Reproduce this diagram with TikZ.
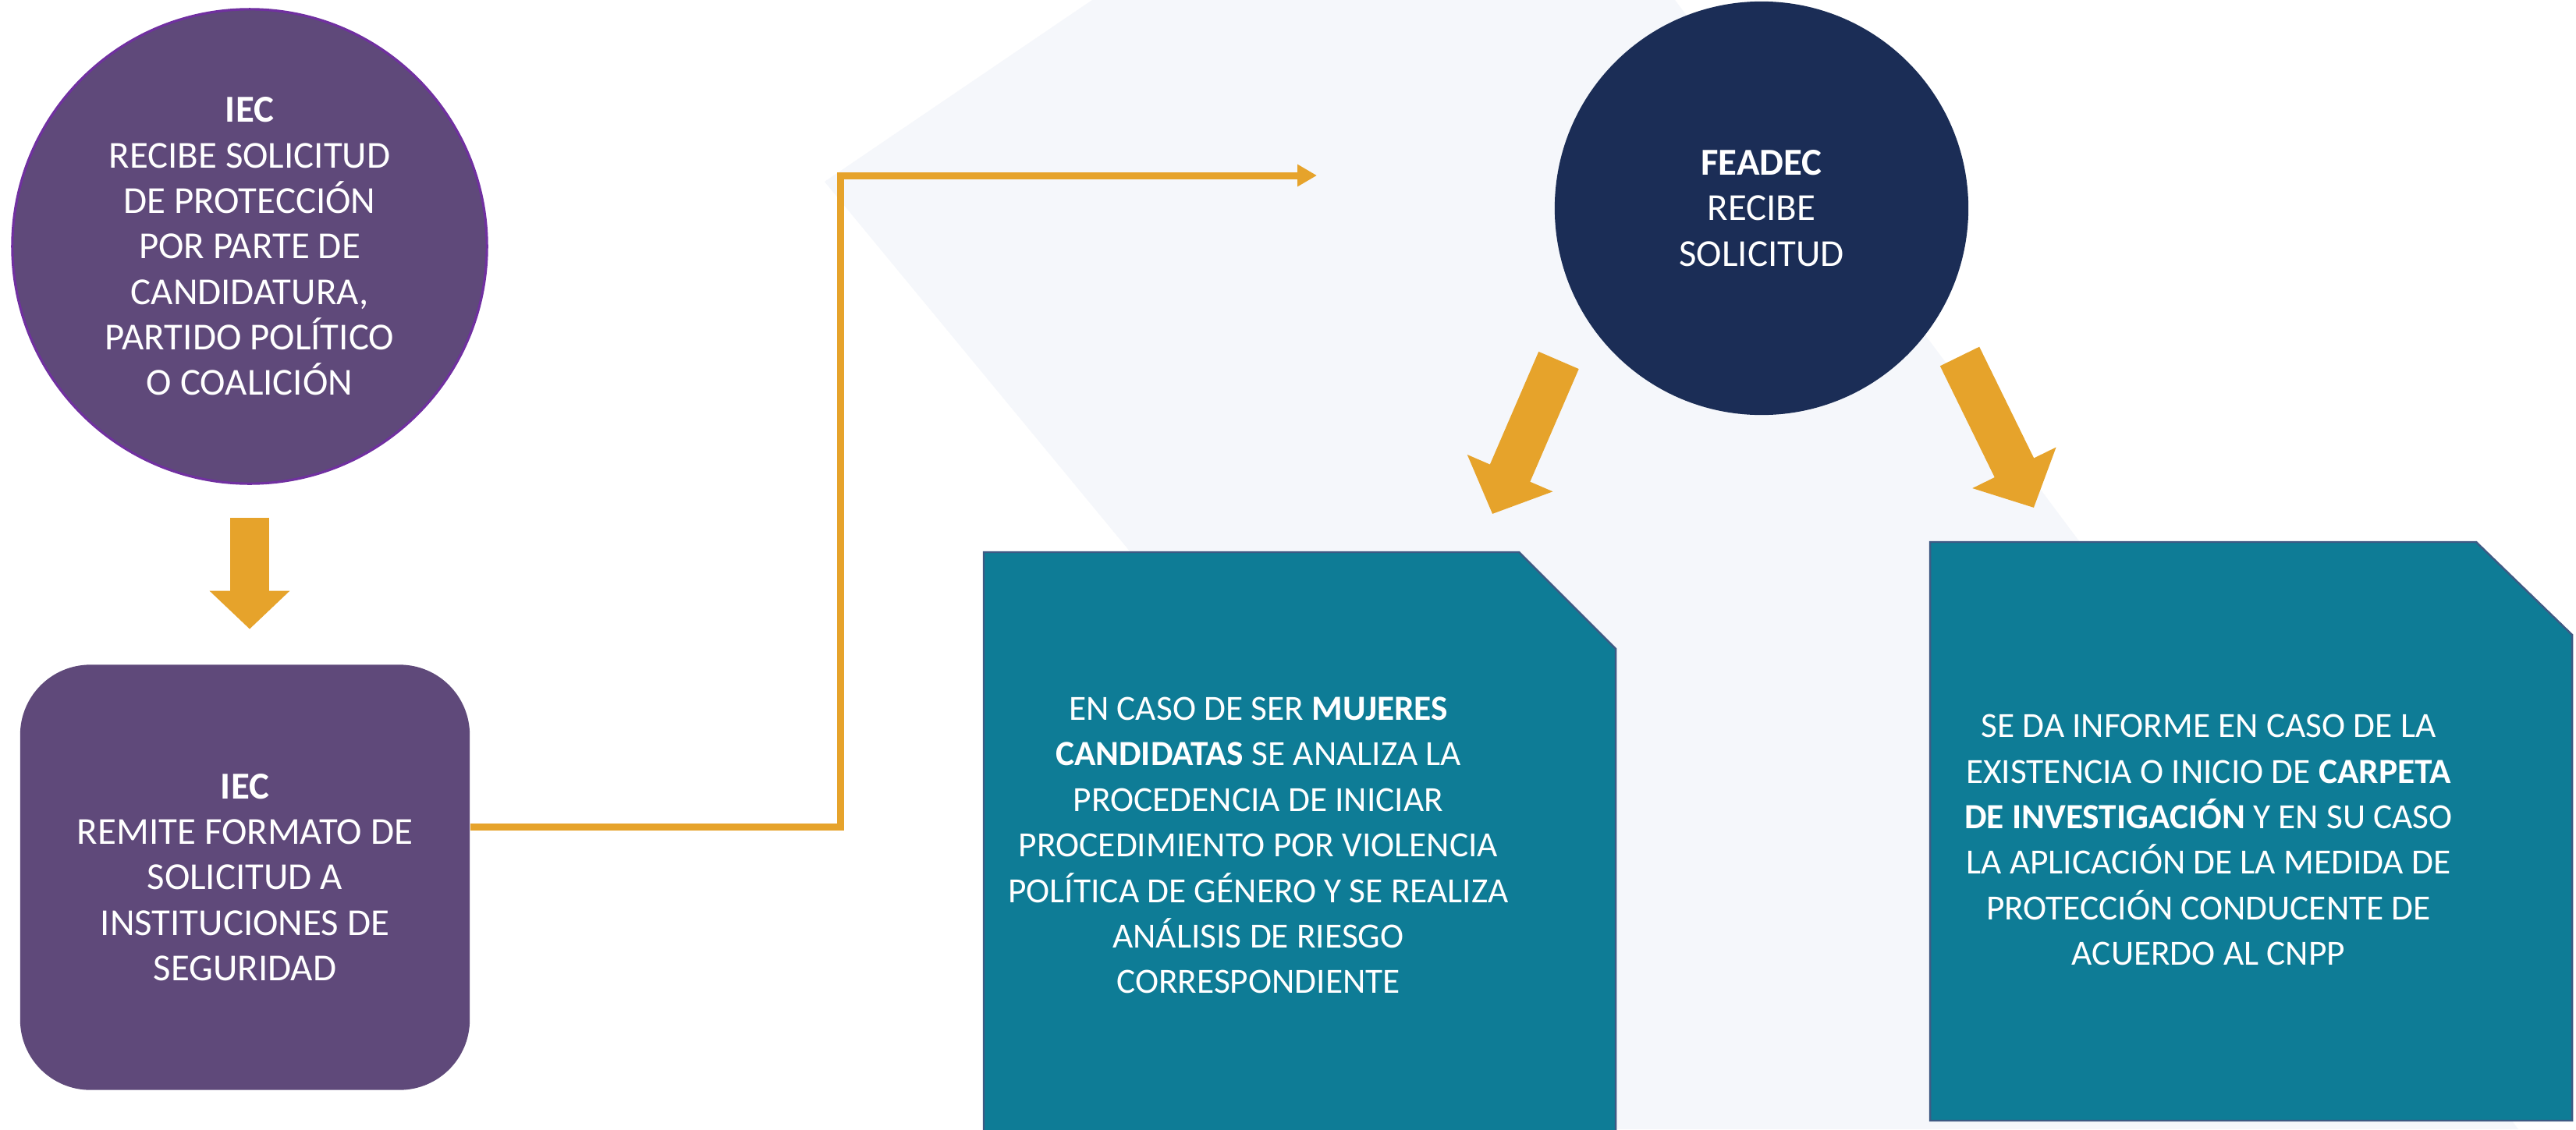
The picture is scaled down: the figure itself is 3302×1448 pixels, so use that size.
\documentclass[tikz,border=0pt]{standalone}
\usepackage{fontspec}
\setmainfont{Carlito}
\usetikzlibrary{arrows.meta,calc}
\definecolor{iecpurple}{HTML}{5F497A}
\definecolor{iecline}{HTML}{7030A0}
\definecolor{feadnavy}{HTML}{1B2D56}
\definecolor{boxteal}{HTML}{0E7C96}
\definecolor{boxline}{HTML}{3E5A84}
\definecolor{flowgold}{HTML}{E6A32B}
\definecolor{bgshade}{HTML}{F5F7FB}
\tikzset{
	txt/.style={white, align=center, font=\fontsize{13.9}{16.6}\selectfont},
	tealtxt/.style={white, align=center, font=\fontsize{12.9}{16.6}\selectfont},
	fatarrow/.style={draw=flowgold, line width=0.49cm, -{Triangle[length=0.49cm, width=1.00cm]}},
	slantarrow/.style={draw=flowgold, line width=0.56cm, -{Triangle[length=0.57cm, width=1.16cm]}},
	flowline/.style={draw=flowgold, line width=0.09cm, -{Triangle[length=0.25cm, width=0.27cm]}},
	tealbox/.style={fill=boxteal, draw=boxline, line width=0.7pt}
}
\begin{document}
\begin{tikzpicture}[x=0.01cm, y=-0.01cm]
		\useasboundingbox (0,0) rectangle (3302,1448);
		\fill[white] (0,0) rectangle (3302,1448);
		\fill[bgshade] (1400,0) -- (2147,0) -- (3228,1448) -- (2060,1448) -- (1057,233) -- cycle;
		\node[txt, circle, fill=iecpurple, draw=iecline, line width=0.9pt, minimum size=6.08cm] (c1) at (320,316) {\textbf{IEC}\\RECIBE SOLICITUD\\DE PROTECCIÓN\\POR PARTE DE\\CANDIDATURA,\\PARTIDO POLÍTICO\\O COALICIÓN};
		\node[txt, rectangle, fill=iecpurple, rounded corners=0.9cm, minimum width=5.76cm, minimum height=5.45cm] (b1) at (314,1125) {\textbf{IEC}\\REMITE FORMATO DE\\SOLICITUD A\\INSTITUCIONES DE\\SEGURIDAD};
		\node[txt, circle, fill=feadnavy, minimum size=5.3cm] (fead) at (2258,267) {\textbf{FEADEC}\\RECIBE\\SOLICITUD};
		\draw[tealbox] (1261,708) -- (1947,708) -- (2071,832) -- (2071,1460) -- (1261,1460) -- cycle;
		\draw[tealbox] (2474,695) -- (3174,695) -- (3297,814) -- (3297,1437) -- (2474,1437) -- cycle;
		\node[tealtxt] (tb1) at (1613,1084) {EN CASO DE SER \textbf{MUJERES}\\\textbf{CANDIDATAS} SE ANALIZA LA\\PROCEDENCIA DE INICIAR\\PROCEDIMIENTO POR VIOLENCIA\\POLÍTICA DE GÉNERO Y SE REALIZA\\ANÁLISIS DE RIESGO\\CORRESPONDIENTE};
		\node[tealtxt] (tb2) at (2831,1077) {SE DA INFORME EN CASO DE LA\\EXISTENCIA O INICIO DE \textbf{CARPETA}\\\textbf{DE INVESTIGACIÓN} Y EN SU CASO\\LA APLICACIÓN DE LA MEDIDA DE\\PROTECCIÓN CONDUCENTE DE\\ACUERDO AL CNPP};
		\draw[fatarrow, shorten <=0.42cm, shorten >=0.45cm] (c1.south) -- (c1.south |- b1.north);
		\coordinate (bend) at (1077,225);
		\coordinate (hook) at (1688,225);
		\draw[flowline] ($(b1.east)+(0,-65)$) -| (bend) -- (hook);
		\coordinate (ltail) at (1998,462);
		\coordinate (ltip) at (1913,659);
		\coordinate (rtail) at (2512,457);
		\coordinate (rtip) at (2607,651);
		\draw[slantarrow] (ltail) -- (ltip);
		\draw[slantarrow] (rtail) -- (rtip);
	\end{tikzpicture}
\end{document}
